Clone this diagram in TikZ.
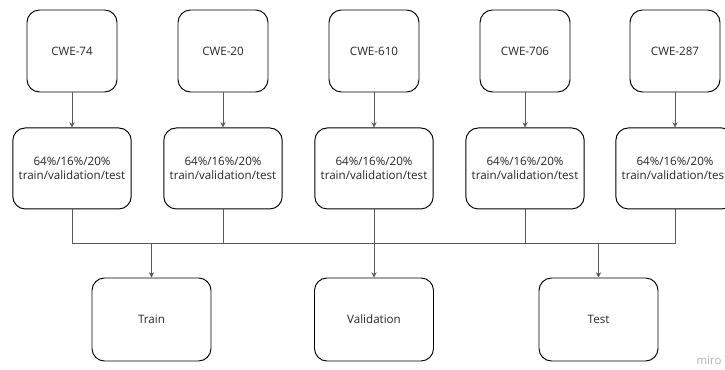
\documentclass[tikz,border=0pt]{standalone}
\usepackage{fontspec}
\setmainfont{Open Sans}
\usepackage{tikz}
\usetikzlibrary{arrows.meta,positioning}

\begin{document}
\begin{tikzpicture}[node distance=0.7cm and 0.6cm,
    every node/.style={font=\fontsize{6.6}{8}\selectfont, text=black!85},
    cwebox/.style={draw, rounded corners=0.25cm, line width=0.55pt, minimum width=1.8cm, minimum height=1.64cm},
    splitbox/.style={draw, rounded corners=0.25cm, line width=0.55pt, minimum width=2.36cm, minimum height=1.62cm, align=center},
    setbox/.style={draw, rounded corners=0.25cm, line width=0.55pt, minimum width=2.38cm, minimum height=1.66cm},
    conn/.style={draw=black!65, line width=0.45pt},
    arr/.style={conn, -{Stealth[length=3pt, width=3pt]}}]
    \useasboundingbox (0,0) rectangle (14.5,-7.4);

    % top row
    \node[cwebox] (c1) at (1.44,-1.02) {CWE-74};
    \node[cwebox] (c2) at (4.46,-1.02) {CWE-20};
    \node[cwebox] (c3) at (7.48,-1.02) {CWE-610};
    \node[cwebox] (c4) at (10.5,-1.02) {CWE-706};
    \node[cwebox] (c5) at (13.5,-1.02) {CWE-287};

    % splits
    \node[splitbox, below=of c1] (s1) {64\%/16\%/20\%\\train/validation/test};
    \node[splitbox, below=of c2] (s2) {64\%/16\%/20\%\\train/validation/test};
    \node[splitbox, below=of c3] (s3) {64\%/16\%/20\%\\train/validation/test};
    \node[splitbox, below=of c4] (s4) {64\%/16\%/20\%\\train/validation/test};
    \node[splitbox, below=of c5] (s5) {64\%/16\%/20\%\\train/validation/test};

    % result sets
    \node[setbox] (train) at (3.03,-6.39) {Train};
    \node[setbox] (valid) at (7.48,-6.39) {Validation};
    \node[setbox] (test) at (11.97,-6.39) {Test};

    \coordinate (bus) at (0,-4.86);

    \foreach \i in {1,...,5}
        \draw[arr] (c\i) -- (s\i);
    \draw[conn] (s1.south) |- (s5.south |- bus) -- (s5.south);
    \foreach \i in {2,3,4}
        \draw[conn] (s\i.south) -- (s\i.south |- bus);
    \foreach \n in {train,valid,test}
        \draw[arr] (\n.north |- bus) -- (\n);

    \node[text=black!30, font=\fontsize{6.5}{8}\selectfont] (miro) at (14.18,-7.2) {miro};
\end{tikzpicture}
\end{document}
